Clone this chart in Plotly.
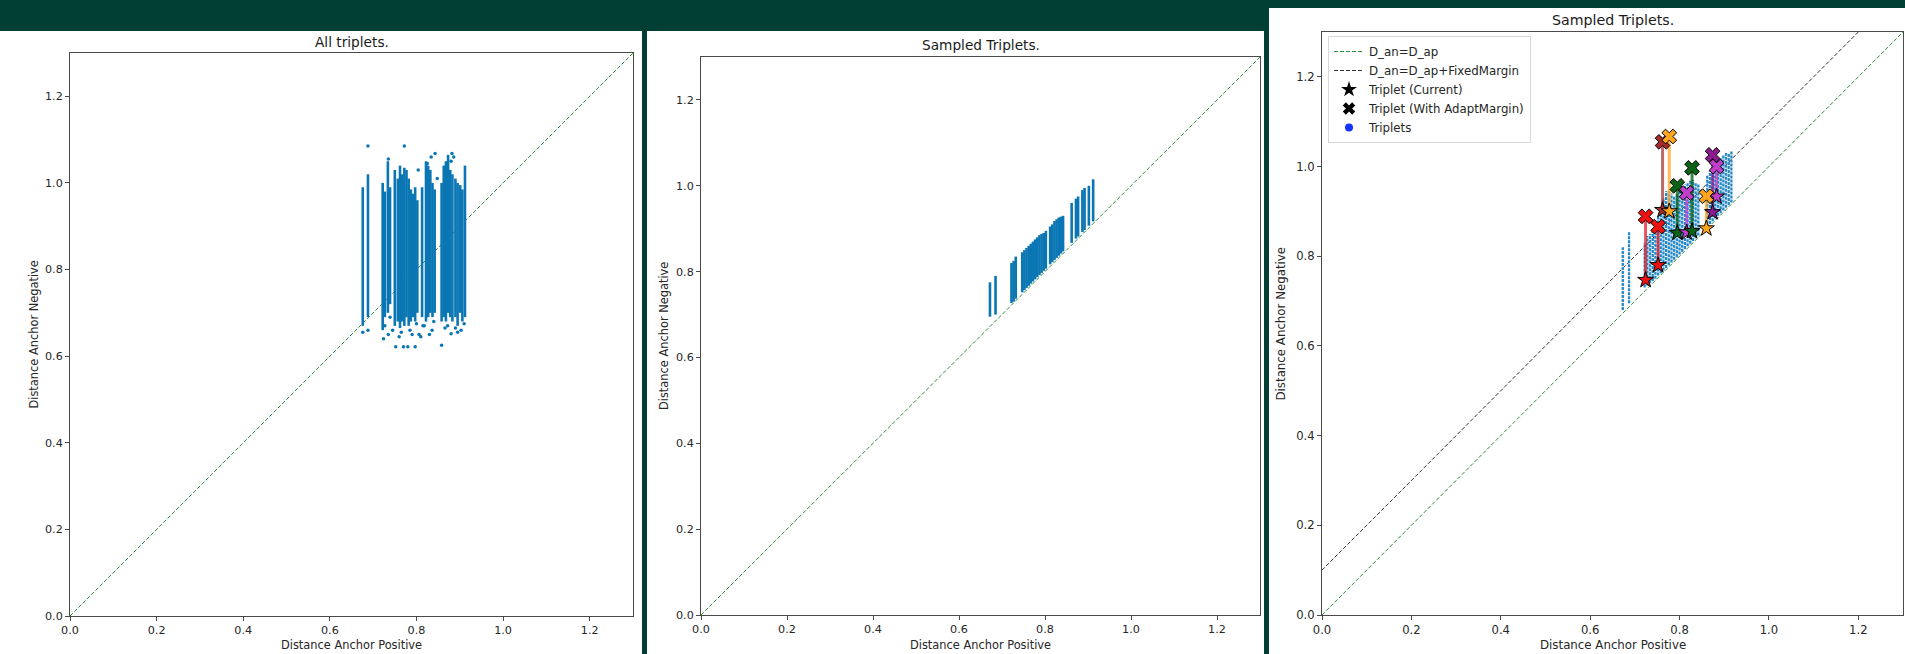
import plotly.graph_objects as go

W, H = 1905, 654
BG = "#013f35"
FONT = "DejaVu Sans"

# ---------------- data ----------------
ticks = [0.0, 0.2, 0.4, 0.6, 0.8, 1.0, 1.2]
tick_labels = ["0.0", "0.2", "0.4", "0.6", "0.8", "1.0", "1.2"]
axis_range = [0, 1.3]
panel_titles = ["All triplets.", "Sampled Triplets.", "Sampled Triplets."]
x_label = "Distance Anchor Positive"
y_label = "Distance Anchor Negative"
fixed_margin = 0.1
diag_x = [0.0, 1.3]

# Panel 1: all triplets, dense vertical columns of points (x, low end, high end)
p1_col_x = [0.676, 0.688, 0.722, 0.727, 0.734, 0.739, 0.750, 0.757, 0.762, 0.767, 0.772,
            0.777, 0.782, 0.787, 0.792, 0.797, 0.802, 0.813, 0.822, 0.827, 0.832, 0.837,
            0.842, 0.858, 0.863, 0.868, 0.873, 0.878, 0.883, 0.890, 0.895, 0.901, 0.906,
            0.912]
p1_col_lo = [0.670, 0.690, 0.660, 0.690, 0.700, 0.720, 0.670, 0.680, 0.665, 0.680, 0.670,
             0.690, 0.670, 0.680, 0.690, 0.680, 0.700, 0.690, 0.680, 0.690, 0.700, 0.690,
             0.700, 0.680, 0.690, 0.680, 0.700, 0.690, 0.680, 0.690, 0.670, 0.700, 0.680,
             0.690]
p1_col_hi = [0.990, 1.020, 1.000, 0.980, 1.050, 0.990, 1.030, 1.010, 1.040, 1.020, 1.035,
             1.030, 1.010, 0.985, 0.975, 0.990, 0.960, 0.990, 1.050, 1.040, 1.030, 1.000,
             0.985, 1.000, 1.040, 1.050, 1.065, 1.030, 1.020, 1.010, 1.000, 0.995, 0.985,
             1.040]
p1_out_x = [0.688, 0.772, 0.843, 0.882, 0.676, 0.688, 0.724, 0.735, 0.752, 0.760, 0.770,
            0.780, 0.790, 0.797, 0.810, 0.830, 0.836, 0.858, 0.866, 0.880, 0.895, 0.903,
            0.735, 0.804, 0.834, 0.880, 0.825, 0.727, 0.739, 0.765, 0.785, 0.800, 0.815,
            0.840, 0.872, 0.890, 0.910, 0.745, 0.806, 0.818, 0.848, 0.886]
p1_out_y = [1.085, 1.085, 1.068, 1.068, 0.655, 0.660, 0.640, 0.650, 0.622, 0.645, 0.622,
            0.622, 0.650, 0.622, 0.645, 0.650, 0.660, 0.625, 0.665, 0.652, 0.655, 0.660,
            1.055, 1.030, 1.060, 1.050, 1.045, 0.670, 0.690, 0.655, 0.660, 0.675, 0.670,
            0.680, 0.670, 0.665, 0.675, 0.660, 0.650, 0.670, 1.010, 1.060]

# Panel 2: sampled triplets
p2_col_x = [0.672, 0.685, 0.722, 0.727, 0.732, 0.747, 0.752, 0.757, 0.762, 0.767, 0.772,
            0.777, 0.782, 0.787, 0.792, 0.797, 0.802, 0.812, 0.817, 0.822, 0.827, 0.832,
            0.837, 0.842, 0.862, 0.872, 0.877, 0.887, 0.892, 0.902, 0.912]
p2_col_lo = [0.695, 0.700, 0.727, 0.730, 0.737, 0.752, 0.757, 0.762, 0.767, 0.772, 0.777,
             0.782, 0.787, 0.792, 0.797, 0.802, 0.807, 0.817, 0.822, 0.827, 0.832, 0.837,
             0.842, 0.847, 0.867, 0.877, 0.882, 0.892, 0.897, 0.907, 0.917]
p2_col_hi = [0.775, 0.790, 0.820, 0.825, 0.835, 0.845, 0.850, 0.855, 0.860, 0.865, 0.870,
             0.875, 0.880, 0.885, 0.888, 0.890, 0.895, 0.905, 0.910, 0.918, 0.922, 0.926,
             0.928, 0.930, 0.960, 0.970, 0.975, 0.990, 0.995, 1.000, 1.015]

# Panel 3: sampled triplets with margins
p3_col_x = [0.673, 0.687, 0.722, 0.728, 0.734, 0.740, 0.746, 0.752, 0.758, 0.764, 0.770,
            0.776, 0.782, 0.788, 0.794, 0.800, 0.806, 0.812, 0.818, 0.824, 0.830, 0.836,
            0.842, 0.862, 0.868, 0.874, 0.880, 0.886, 0.892, 0.898, 0.904, 0.910, 0.916]
p3_col_lo = [0.680, 0.695, 0.730, 0.735, 0.740, 0.745, 0.750, 0.757, 0.762, 0.768, 0.774,
             0.780, 0.786, 0.792, 0.798, 0.804, 0.810, 0.816, 0.822, 0.828, 0.834, 0.840,
             0.846, 0.866, 0.872, 0.878, 0.884, 0.890, 0.896, 0.902, 0.908, 0.914, 0.920]
p3_col_hi = [0.820, 0.855, 0.830, 0.845, 0.850, 0.860, 0.870, 0.890, 0.910, 0.930, 0.945,
             0.945, 0.940, 0.935, 0.940, 0.950, 0.955, 0.960, 0.965, 0.970, 0.970, 0.965,
             0.960, 0.980, 0.990, 1.000, 1.010, 1.015, 1.020, 1.025, 1.030, 1.030, 1.035]

trip_x = [0.724, 0.752, 0.762, 0.777, 0.795, 0.816, 0.828, 0.860, 0.874, 0.883]
trip_current = [0.747, 0.780, 0.903, 0.900, 0.852, 0.853, 0.856, 0.862, 0.898, 0.933]
trip_adapt = [0.889, 0.866, 1.055, 1.067, 0.957, 0.941, 0.997, 0.934, 1.026, 1.000]
trip_color = ["#ee1111", "#ee1111", "#a52a2a", "#ffa520", "#0b6416", "#c13fc8",
              "#0b6416", "#ffa520", "#8a1a8e", "#c13fc8"]
trip_line = ["rgba(220,30,40,0.75)", "rgba(220,30,40,0.75)", "rgba(165,42,42,0.7)",
             "rgba(255,165,32,0.75)", "rgba(11,100,22,0.8)", "rgba(193,63,200,0.75)",
             "rgba(11,100,22,0.8)", "rgba(255,165,32,0.75)", "rgba(138,26,142,0.75)",
             "rgba(193,63,200,0.75)"]

legend_names = ["D_an=D_ap", "D_an=D_ap+FixedMargin", "Triplet (Current)",
                "Triplet (With AdaptMargin)", "Triplets"]

DOT = "#0a76b3"
DOT3 = "#2487c6"
GREEN = "#2f8f3f"
DASH = "4px,2px"


def px(x):
    return x / W


def py(y):
    return 1 - y / H


def segs(xs, lo, hi):
    sx, sy = [], []
    for x, a, b in zip(xs, lo, hi):
        sx += [x, x, None]
        sy += [a, b, None]
    return sx, sy


fig = go.Figure()

# axis boxes in pixels (left, right, top, bottom)
boxes = [
    (70, 633, 53, 616),
    (701, 1260, 57, 615),
    (1322, 1903, 32, 615),
]
axis_names = [("x", "y"), ("x2", "y2"), ("x3", "y3")]

# ---- Panel 1 ----
fig.add_trace(go.Scatter(x=diag_x, y=diag_x, mode="lines", xaxis="x", yaxis="y",
                         line=dict(color=GREEN, width=1, dash=DASH),
                         showlegend=False, hoverinfo="skip"))
sx, sy = segs(p1_col_x, p1_col_lo, p1_col_hi)
fig.add_trace(go.Scatter(x=sx, y=sy, mode="lines", xaxis="x", yaxis="y",
                         line=dict(color=DOT, width=2.6), showlegend=False))
fig.add_trace(go.Scatter(x=p1_out_x, y=p1_out_y, mode="markers", xaxis="x", yaxis="y",
                         marker=dict(color=DOT, size=3.5), showlegend=False))

# ---- Panel 2 ----
fig.add_trace(go.Scatter(x=diag_x, y=diag_x, mode="lines", xaxis="x2", yaxis="y2",
                         line=dict(color=GREEN, width=1, dash=DASH),
                         showlegend=False, hoverinfo="skip"))
sx, sy = segs(p2_col_x, p2_col_lo, p2_col_hi)
fig.add_trace(go.Scatter(x=sx, y=sy, mode="lines", xaxis="x2", yaxis="y2",
                         line=dict(color=DOT, width=2.6), showlegend=False))

# ---- Panel 3 ----
fig.add_trace(go.Scatter(x=diag_x, y=diag_x, mode="lines", xaxis="x3", yaxis="y3",
                         name=legend_names[0],
                         line=dict(color=GREEN, width=1, dash=DASH),
                         showlegend=True, hoverinfo="skip"))
fm_x = [0.0, 1.3 - fixed_margin]
fm_y = [v + fixed_margin for v in fm_x]
fig.add_trace(go.Scatter(x=fm_x, y=fm_y, mode="lines", xaxis="x3", yaxis="y3",
                         name=legend_names[1],
                         line=dict(color="#333333", width=1, dash=DASH),
                         showlegend=True, hoverinfo="skip"))
fig.add_trace(go.Scatter(x=[None], y=[None], mode="markers", xaxis="x3", yaxis="y3",
                         name=legend_names[2],
                         marker=dict(symbol="star", color="black", size=12)))
fig.add_trace(go.Scatter(x=[None], y=[None], mode="markers", xaxis="x3", yaxis="y3",
                         name=legend_names[3],
                         marker=dict(symbol="x", color="black", size=11)))
fig.add_trace(go.Scatter(x=[None], y=[None], mode="markers", xaxis="x3", yaxis="y3",
                         name=legend_names[4],
                         marker=dict(symbol="circle", color="#1433ff", size=8)))

sx, sy = segs(p3_col_x, p3_col_lo, p3_col_hi)
fig.add_trace(go.Scatter(x=sx, y=sy, mode="lines", xaxis="x3", yaxis="y3",
                         line=dict(color=DOT3, width=2.3, dash="3px,1px"),
                         showlegend=False))

for i in range(len(trip_x)):
    fig.add_trace(go.Scatter(x=[trip_x[i], trip_x[i]], y=[trip_current[i], trip_adapt[i]],
                             mode="lines", xaxis="x3", yaxis="y3",
                             line=dict(color=trip_line[i], width=3), showlegend=False))
fig.add_trace(go.Scatter(x=trip_x, y=trip_current, mode="markers", xaxis="x3", yaxis="y3",
                         marker=dict(symbol="star", color=trip_color, size=12,
                                     line=dict(color="black", width=1)),
                         showlegend=False))
fig.add_trace(go.Scatter(x=trip_x, y=trip_adapt, mode="markers", xaxis="x3", yaxis="y3",
                         marker=dict(symbol="x", color=trip_color, size=13,
                                     line=dict(color="black", width=1)),
                         showlegend=False))

# ---- layout ----
layout = dict(
    width=W, height=H, autosize=False,
    margin=dict(l=0, r=0, t=0, b=0, pad=0, autoexpand=False),
    paper_bgcolor=BG, plot_bgcolor="white",
    font=dict(family=FONT, color="#262626"),
    legend=dict(x=px(1328), y=py(36), xanchor="left", yanchor="top",
                bgcolor="rgba(255,255,255,0.85)", bordercolor="#d8d8d8", borderwidth=1,
                font=dict(size=11.8, family=FONT, color="#262626"),
                tracegroupgap=0, itemwidth=30),
    showlegend=True,
)
for i, (l, r, t, b) in enumerate(boxes):
    xa, ya = axis_names[i]
    tsize = 11.6 if i == 2 else 11.2
    common = dict(range=axis_range, tickvals=ticks, ticktext=tick_labels,
                  showgrid=False, zeroline=False, showline=True, mirror=True,
                  automargin=False,
                  linecolor="#4a4a4a", linewidth=1, ticks="outside", ticklen=4,
                  tickcolor="#4a4a4a", tickfont=dict(size=tsize, family=FONT, color="#262626"))
    layout["xaxis" + ("" if i == 0 else str(i + 1))] = dict(
        domain=[px(l), px(r)], anchor=ya, **common)
    layout["yaxis" + ("" if i == 0 else str(i + 1))] = dict(
        domain=[py(b), py(t)], anchor=xa, **common)
fig.update_layout(**layout)

# panel backgrounds
panels = [(0, 642, 31), (647, 1264, 31), (1269, 1905, 8)]
for (l, r, t) in panels:
    fig.add_shape(type="rect", xref="paper", yref="paper", x0=px(l), x1=px(r),
                  y0=0, y1=py(t), fillcolor="white", line=dict(width=0), layer="below")

# titles and axis labels
title_y = [42, 45, 20]
xlab_y = [645, 645, 645]
ylab_x = [33, 664, 1281]
for i, (l, r, t, b) in enumerate(boxes):
    cx = (l + r) / 2
    big = i == 2
    fig.add_annotation(text=panel_titles[i], x=px(cx), y=py(title_y[i]), xref="paper",
                       yref="paper", showarrow=False, xanchor="center", yanchor="middle",
                       font=dict(size=14.2 if big else 13.7, family=FONT, color="#1a1a1a"))
    fig.add_annotation(text=x_label, x=px(cx), y=py(xlab_y[i]), xref="paper",
                       yref="paper", showarrow=False, xanchor="center", yanchor="middle",
                       font=dict(size=11.8 if big else 11.4, family=FONT, color="#262626"))
    fig.add_annotation(text=y_label, x=px(ylab_x[i]), y=py((t + b) / 2), xref="paper",
                       yref="paper", showarrow=False, xanchor="center", yanchor="middle",
                       textangle=-90,
                       font=dict(size=11.8 if big else 11.4, family=FONT, color="#262626"))

fig.write_html(
    "out.html",
    config={"displayModeBar": False},
    post_script="document.body.style.margin='0';document.body.style.padding='0';"
                "document.body.style.overflow='hidden';",
)
